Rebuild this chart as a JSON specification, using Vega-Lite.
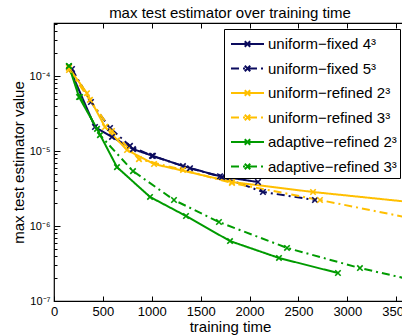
{
  "$schema": "https://vega.github.io/schema/vega-lite/v6.json",
  "width": 352,
  "height": 278,
  "autosize": {"type": "none"},
  "padding": {"left": 54, "top": 23, "right": 0, "bottom": 34},
  "title": {"text": "max test estimator over training time", "fontSize": 15, "font": "Liberation Sans", "fontWeight": "normal", "offset": -3, "anchor": "middle", "color": "#000"},
  "config": {
    "view": {"stroke": "#000", "strokeWidth": 1.2},
    "font": "Liberation Sans",
    "axis": {"labelFont": "Liberation Sans", "titleFont": "Liberation Sans", "labelColor": "#000", "titleColor": "#000", "tickColor": "#000", "grid": false, "domain": false, "titleFontWeight": "normal"}
  },
  "data": {"values": [
    {"s": "uniform−fixed 4³", "t": 153, "v": 1.32e-4},
    {"s": "uniform−fixed 4³", "t": 419, "v": 2.09e-5},
    {"s": "uniform−fixed 4³", "t": 593, "v": 1.54e-5},
    {"s": "uniform−fixed 4³", "t": 808, "v": 1.06e-5},
    {"s": "uniform−fixed 4³", "t": 1012, "v": 8.6e-6},
    {"s": "uniform−fixed 4³", "t": 1319, "v": 6.3e-6},
    {"s": "uniform−fixed 4³", "t": 1698, "v": 4.6e-6},
    {"s": "uniform−fixed 4³", "t": 2086, "v": 3.86e-6},
    {"s": "uniform−fixed 5³", "t": 184, "v": 1.24e-4},
    {"s": "uniform−fixed 5³", "t": 378, "v": 4.5e-5},
    {"s": "uniform−fixed 5³", "t": 573, "v": 2.03e-5},
    {"s": "uniform−fixed 5³", "t": 777, "v": 1.17e-5},
    {"s": "uniform−fixed 5³", "t": 1002, "v": 8.6e-6},
    {"s": "uniform−fixed 5³", "t": 1391, "v": 5.9e-6},
    {"s": "uniform−fixed 5³", "t": 1718, "v": 4.5e-6},
    {"s": "uniform−fixed 5³", "t": 2137, "v": 2.84e-6},
    {"s": "uniform−fixed 5³", "t": 2669, "v": 2.22e-6},
    {"s": "uniform−refined 2³", "t": 153, "v": 1.28e-4},
    {"s": "uniform−refined 2³", "t": 337, "v": 5.9e-5},
    {"s": "uniform−refined 2³", "t": 522, "v": 2.09e-5},
    {"s": "uniform−refined 2³", "t": 747, "v": 1.03e-5},
    {"s": "uniform−refined 2³", "t": 1023, "v": 6.7e-6},
    {"s": "uniform−refined 2³", "t": 1820, "v": 3.86e-6},
    {"s": "uniform−refined 2³", "t": 2649, "v": 2.84e-6},
    {"s": "uniform−refined 2³", "t": 3845, "v": 1.96e-6},
    {"s": "uniform−refined 3³", "t": 153, "v": 1.2e-4},
    {"s": "uniform−refined 3³", "t": 368, "v": 4.8e-5},
    {"s": "uniform−refined 3³", "t": 593, "v": 1.85e-5},
    {"s": "uniform−refined 3³", "t": 869, "v": 7.8e-6},
    {"s": "uniform−refined 3³", "t": 1319, "v": 5.6e-6},
    {"s": "uniform−refined 3³", "t": 1820, "v": 3.74e-6},
    {"s": "uniform−refined 3³", "t": 2720, "v": 2.22e-6},
    {"s": "uniform−refined 3³", "t": 3845, "v": 1.13e-6},
    {"s": "adaptive−refined 2³", "t": 153, "v": 1.36e-4},
    {"s": "adaptive−refined 2³", "t": 256, "v": 5.25e-5},
    {"s": "adaptive−refined 2³", "t": 440, "v": 1.97e-5},
    {"s": "adaptive−refined 2³", "t": 644, "v": 6.1e-6},
    {"s": "adaptive−refined 2³", "t": 982, "v": 2.44e-6},
    {"s": "adaptive−refined 2³", "t": 1350, "v": 1.36e-6},
    {"s": "adaptive−refined 2³", "t": 1800, "v": 6.3e-7},
    {"s": "adaptive−refined 2³", "t": 2301, "v": 3.75e-7},
    {"s": "adaptive−refined 2³", "t": 2904, "v": 2.36e-7},
    {"s": "adaptive−refined 3³", "t": 153, "v": 1.36e-4},
    {"s": "adaptive−refined 3³", "t": 266, "v": 5.25e-5},
    {"s": "adaptive−refined 3³", "t": 470, "v": 1.63e-5},
    {"s": "adaptive−refined 3³", "t": 808, "v": 5.4e-6},
    {"s": "adaptive−refined 3³", "t": 1227, "v": 2.22e-6},
    {"s": "adaptive−refined 3³", "t": 1687, "v": 1.13e-6},
    {"s": "adaptive−refined 3³", "t": 2383, "v": 5.1e-7},
    {"s": "adaptive−refined 3³", "t": 3129, "v": 2.75e-7},
    {"s": "adaptive−refined 3³", "t": 3896, "v": 1.63e-7}
  ]},
  "layer": [
    {
      "mark": {"type": "line", "strokeWidth": 2, "clip": true},
      "encoding": {
        "x": {"field": "t", "type": "quantitative", "scale": {"domain": [0, 3600], "nice": false, "zero": false},
          "axis": {"orient": "bottom", "values": [0, 500, 1000, 1500, 2000, 2500, 3000, 3500], "format": "d", "tickSize": -5, "labelFontSize": 13, "labelPadding": 9, "title": "training time", "titleFontSize": 15, "titlePadding": 1, "labelFlush": false}},
        "y": {"field": "v", "type": "quantitative", "scale": {"type": "log", "domain": [1e-7, 5.09e-4], "nice": false},
          "axis": {
            "values": [1e-7, 2e-7, 3e-7, 4e-7, 5e-7, 6e-7, 7e-7, 8e-7, 9e-7, 1e-6, 2e-6, 3e-6, 4e-6, 5e-6, 6e-6, 7e-6, 8e-6, 9e-6, 1e-5, 2e-5, 3e-5, 4e-5, 5e-5, 6e-5, 7e-5, 8e-5, 9e-5, 1e-4, 2e-4, 3e-4, 4e-4, 5e-4],
            "tickSize": {"condition": {"test": "abs(log(datum.value)/LN10 - round(log(datum.value)/LN10)) < 0.001", "value": -6}, "value": -3},
            "labelExpr": "abs(datum.value/1e-4 - 1) < 0.01 ? '10⁻⁴' : abs(datum.value/1e-5 - 1) < 0.01 ? '10⁻⁵' : abs(datum.value/1e-6 - 1) < 0.01 ? '10⁻⁶' : abs(datum.value/1e-7 - 1) < 0.01 ? '10⁻⁷' : ''",
            "labelFontSize": 11, "labelPadding": 10, "labelFlush": false, "labelOverlap": false,
            "title": "max test estimator value", "titleFontSize": 15, "titlePadding": 3}},
        "color": {"field": "s", "type": "nominal",
          "scale": {"domain": ["uniform−fixed 4³", "uniform−fixed 5³", "uniform−refined 2³", "uniform−refined 3³", "adaptive−refined 2³", "adaptive−refined 3³"],
                    "range": ["#0b0b5e", "#0b0b5e", "#ffbf00", "#ffbf00", "#009b00", "#009b00"]},
          "legend": {"orient": "none", "legendX": 170, "legendY": 6, "title": null,
            "symbolType": "M-1.5,0H1.5M-0.25,-0.25L0.25,0.25M-0.25,0.25L0.25,-0.25", "symbolSize": 484, "symbolStrokeWidth": 2,
            "labelFontSize": 15, "labelFont": "Liberation Sans", "labelColor": "#000", "strokeColor": "#000", "fillColor": "#fff",
            "padding": 3, "symbolOffset": 8.5, "labelOffset": 8.5, "rowPadding": 4.5, "cornerRadius": 0, "labelLimit": 300}},
        "strokeDash": {"field": "s", "type": "nominal",
          "scale": {"domain": ["uniform−fixed 4³", "uniform−fixed 5³", "uniform−refined 2³", "uniform−refined 3³", "adaptive−refined 2³", "adaptive−refined 3³"],
                    "range": [[1, 0], [8, 4, 2, 4], [1, 0], [8, 4, 2, 4], [1, 0], [8, 4, 2, 4]]},
          "legend": {"orient": "none", "legendX": 170, "legendY": 6, "title": null,
            "symbolType": "M-1.5,0H1.5M-0.25,-0.25L0.25,0.25M-0.25,0.25L0.25,-0.25", "symbolSize": 484, "symbolStrokeWidth": 2,
            "labelFontSize": 15, "labelFont": "Liberation Sans", "labelColor": "#000", "strokeColor": "#000", "fillColor": "#fff",
            "padding": 3, "symbolOffset": 8.5, "labelOffset": 8.5, "rowPadding": 4.5, "cornerRadius": 0, "labelLimit": 300}}
      }
    },
    {
      "mark": {"type": "point", "shape": "M-1,-1L1,1M-1,1L1,-1", "filled": false, "size": 30, "strokeWidth": 1.6, "opacity": 1, "clip": true},
      "encoding": {
        "x": {"field": "t", "type": "quantitative", "axis": null},
        "y": {"field": "v", "type": "quantitative"},
        "color": {"field": "s", "type": "nominal", "legend": null}
      }
    },
    {
      "mark": {"type": "point", "opacity": 0, "clip": true},
      "encoding": {
        "x": {"field": "t", "type": "quantitative",
          "axis": {"orient": "top", "values": [0, 500, 1000, 1500, 2000, 2500, 3000, 3500], "tickSize": -5, "labels": false, "title": null}},
        "y": {"field": "v", "type": "quantitative"}
      }
    }
  ],
  "resolve": {"axis": {"x": "independent"}}
}
